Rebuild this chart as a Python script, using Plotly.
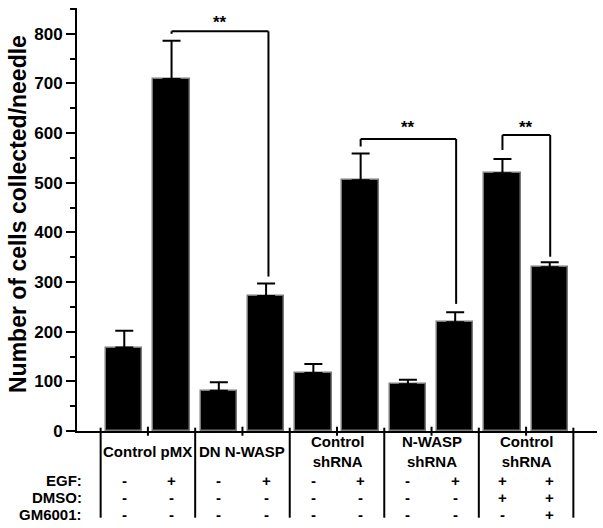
import plotly.graph_objects as go

# ---- data ----
bar_pos = list(range(10))
values = [168, 709, 81, 272, 117, 505, 94, 219, 519, 330]
err_tops = [202, 786, 98, 297, 135, 559, 103, 239, 548, 340]
errors = [t - v for t, v in zip(err_tops, values)]

group_labels = ["Control pMX", "DN N-WASP", "Control<br>shRNA", "N-WASP<br>shRNA", "Control<br>shRNA"]
group_centers = [0.5, 2.5, 4.5, 6.5, 8.5]
dividers = [-0.5, 1.5, 3.5, 5.5, 7.5, 9.5]

row_names = ["EGF:", "DMSO:", "GM6001:"]
egf = ["-", "+", "-", "+", "-", "+", "-", "+", "+", "+"]
dmso = ["-", "-", "-", "-", "-", "-", "-", "-", "+", "+"]
gm6001 = ["-", "-", "-", "-", "-", "-", "-", "-", "-", "+"]

# significance brackets: (x_left, x_right, y_bar, y_left_end, y_right_end, y_star)
brackets = [
    (1, 3.05, 805, 800, 311, 822),
    (5, 7.02, 588, 573, 256, 611),
    (8, 9.01, 596, 566, 351, 611),
]

FONT = "Liberation Sans, Arial, sans-serif"

fig = go.Figure()
fig.add_trace(go.Bar(
    x=bar_pos, y=values, width=0.77,
    marker=dict(color="black", line=dict(color="#7a7a7a", width=1.5)),
    error_y=dict(type="data", array=errors, arrayminus=[0] * len(errors), symmetric=False,
                 color="black", thickness=2, width=9),
    showlegend=False,
))

shapes = []
annotations = []

# y-axis title
annotations.append(dict(
    text="<b>Number of cells collected/needle</b>", textangle=-90,
    xref="paper", yref="paper", x=(17.5 - 77) / 520, y=0.5 + 5 / 423,
    xanchor="center", yanchor="middle", showarrow=False,
    font=dict(family=FONT, size=23, color="black"),
))

# brackets
for xl, xr, yb, yl, yr, ys in brackets:
    shapes.append(dict(type="line", xref="x", yref="y", x0=xl, x1=xl, y0=yl, y1=yb,
                       line=dict(color="black", width=2)))
    shapes.append(dict(type="line", xref="x", yref="y", x0=xl, x1=xr, y0=yb, y1=yb,
                       line=dict(color="black", width=2)))
    shapes.append(dict(type="line", xref="x", yref="y", x0=xr, x1=xr, y0=yb, y1=yr,
                       line=dict(color="black", width=2)))
    annotations.append(dict(text="<b>**</b>", x=(xl + xr) / 2, y=ys, xref="x", yref="y",
                            showarrow=False, font=dict(family=FONT, size=17, color="black"),
                            xanchor="center", yanchor="middle"))

PH = 423.0
def py(pix):  # pixel y -> paper y
    return (431.3 - pix) / PH

# dividers below axis
for d in dividers:
    shapes.append(dict(type="line", xref="x", yref="paper", x0=d, x1=d, y0=py(518), y1=py(428),
                       line=dict(color="black", width=2)))
# group center ticks
for c in group_centers:
    shapes.append(dict(type="line", xref="x", yref="paper", x0=c, x1=c, y0=py(436), y1=py(427),
                       line=dict(color="black", width=2)))

# group labels
for lab, c in zip(group_labels, group_centers):
    annotations.append(dict(text="<b>" + lab + "</b>", x=c, y=py(452), xref="x", yref="paper",
                            showarrow=False, xanchor="center", yanchor="middle",
                            font=dict(family=FONT, size=15, color="black")))

# treatment rows
row_y = [481, 498, 515]
for name, yy, signs in zip(row_names, row_y, [egf, dmso, gm6001]):
    annotations.append(dict(text="<b>" + name + "</b>", x=(84 - 77) / 520, y=py(yy),
                            xref="paper", yref="paper", showarrow=False,
                            xanchor="right", yanchor="middle",
                            font=dict(family=FONT, size=15, color="black")))
    for xp, s in zip(bar_pos, signs):
        annotations.append(dict(text="<b>" + s + "</b>", x=xp, y=py(yy), xref="x", yref="paper",
                                showarrow=False, xanchor="center", yanchor="middle",
                                font=dict(family=FONT, size=15, color="black")))

fig.update_layout(
    width=603, height=528,
    margin=dict(l=77, r=6, t=8, b=97),
    plot_bgcolor="white", paper_bgcolor="white",
    shapes=shapes, annotations=annotations,
    bargap=0,
    xaxis=dict(range=[-1, 10], showline=True, linewidth=2, linecolor="black",
               showticklabels=False, ticks="", showgrid=False, zeroline=False, fixedrange=True),
    yaxis=dict(range=[0, 852], showline=True, linewidth=2, linecolor="black",
               tickvals=[0, 100, 200, 300, 400, 500, 600, 700, 800],
               ticktext=["<b>%d</b>" % v for v in [0, 100, 200, 300, 400, 500, 600, 700, 800]],
               ticks="outside", ticklen=9, tickwidth=2, tickcolor="black",
               minor=dict(tickvals=[50, 150, 250, 350, 450, 550, 650, 750, 850],
                          ticks="outside", ticklen=5, tickwidth=1.5, tickcolor="black"),
               tickfont=dict(family=FONT, size=17, color="black"),
               showgrid=False, zeroline=False, fixedrange=True),
)

fig.write_html("out.html", config={"displayModeBar": False},
               post_script="document.body.style.margin='0px';document.body.style.overflow='hidden';")
